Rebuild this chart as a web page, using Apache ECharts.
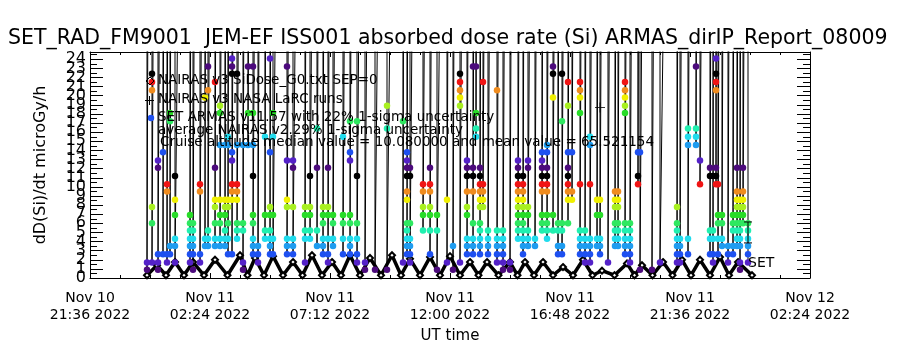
<!DOCTYPE html>
<html>
<head>
<meta charset="utf-8">
<script src="https://cdn.jsdelivr.net/npm/echarts@6/dist/echarts.min.js"></script>
<style>
  html, body { margin: 0; padding: 0; background: #fff; }
  #chart { width: 900px; height: 350px; }
</style>
</head>
<body>
<div id="chart"></div>
<script>
// hours since Nov 10 21:36 UT
let timeLabels = ['Nov 10\n21:36 2022', 'Nov 11\n02:24 2022', 'Nov 11\n07:12 2022', 'Nov 11\n12:00 2022',
    'Nov 11\n16:48 2022', 'Nov 11\n21:36 2022', 'Nov 12\n02:24 2022']

// ARMAS: one column of readings per time, first value is the off-scale spike
let armasHours = [2.28, 2.48, 2.72, 2.92, 3.08, 3.20, 3.40, 4.00, 4.12, 4.40, 4.60, 4.72, 5.00, 5.20, 5.40, 5.52,
    5.68, 5.88, 6.12, 6.32, 6.52, 6.72, 7.00, 7.20, 7.32, 7.88, 8.12, 8.60, 8.80, 9.08, 9.32, 9.52, 9.72, 10.12,
    10.40, 10.68, 11.00, 11.40, 11.88, 12.52, 12.68, 12.80, 13.32, 13.60, 13.88, 14.28, 14.52, 14.80, 15.08, 15.32,
    15.44, 15.60, 15.72, 15.92, 16.28, 16.52, 16.80, 17.12, 17.32, 17.52, 17.80, 18.08, 18.28, 18.52, 18.72, 18.88,
    19.12, 19.28, 19.60, 19.80, 20.00, 20.28, 20.40, 20.72, 21.00, 21.12, 21.40, 21.60, 21.92, 22.00, 22.48, 22.80,
    23.48, 23.60, 23.92, 24.24, 24.40, 24.80, 24.92, 25.04, 25.12, 25.28, 25.52, 25.72, 25.88, 26.00, 26.12, 26.32]
let armasDose = [
    [120, 1.7, 0.9],
    [160, 22.4, 21.5, 20.6, 7.8, 6.0, 1.7],
    [140, 12.9, 12.1, 2.6, 1.7, 0.9],
    [110, 13.8, 2.6],
    [180, 10.3, 9.5, 2.6, 1.7],
    [130, 18.1, 17.2, 3.5, 2.6],
    [200, 11.2, 8.6, 6.9, 4.3, 3.5, 1.7],
    [150, 6.9, 6.0, 5.2, 4.3, 3.5, 2.6, 1.7],
    [120, 6.0, 5.2, 4.3, 3.5, 2.6, 0.9],
    [170, 10.3, 9.5, 2.6, 1.7],
    [100, 19.8, 4.3, 3.5],
    [210, 23.2, 20.6, 5.2, 4.3, 3.5],
    [140, 21.5, 12.1, 8.6, 7.8, 6.0, 4.3, 3.5],
    [190, 18.9, 18.1, 14.6, 8.6, 6.9, 6.0, 4.3, 3.5],
    [120, 14.6, 8.6, 7.8, 6.9, 5.2, 4.3, 3.5],
    [160, 15.5, 14.6, 8.6, 7.8, 6.0, 4.3, 2.6],
    [230, 24.1, 23.2, 22.4, 13.8, 12.9, 10.3, 9.5, 8.6, 2.6],
    [150, 22.4, 14.6, 10.3, 9.5, 8.6, 6.0, 5.2, 4.3],
    [110, 14.6, 6.0, 5.2, 1.7, 0.9],
    [170, 23.2, 18.1, 14.6],
    [140, 23.2, 18.1, 14.6, 11.2, 6.9, 6.0, 4.3, 3.5, 2.6],
    [100, 3.5, 2.6, 1.7],
    [190, 15.5, 6.9, 5.2, 4.3],
    [250, 24.1, 13.8, 7.8, 6.9, 5.2, 4.3, 3.5, 2.6],
    [130, 18.1, 15.5, 6.9, 4.3, 2.6],
    [160, 23.2, 12.9, 8.6, 7.8, 4.3, 3.5, 2.6],
    [120, 12.9, 12.1, 7.8, 4.3, 3.5, 2.6],
    [140, 7.8, 6.9, 5.2, 4.3, 1.7],
    [180, 11.2, 7.8, 6.9, 5.2, 4.3],
    [110, 16.4, 12.1, 5.2, 3.5],
    [150, 7.8, 6.9, 6.0, 4.3, 3.5, 2.6],
    [200, 12.1, 7.8, 6.9, 4.3, 2.6, 1.7],
    [130, 6.9, 6.0, 4.3, 3.5],
    [170, 15.5, 6.9, 6.0, 4.3, 2.6],
    [140, 17.2, 13.8, 12.9, 6.9, 6.0, 4.3, 3.5, 2.6],
    [190, 17.2, 11.2, 6.0, 4.3, 2.6, 1.7],
    [120, 1.7, 0.9],
    [160, 0.9],
    [130, 18.9, 16.4, 0.9],
    [150, 17.2, 1.7],
    [220, 13.8, 12.9, 12.1, 11.2, 9.5, 8.6, 6.0, 5.2, 4.3, 3.5, 2.6],
    [140, 12.1, 11.2, 6.0, 4.3, 3.5, 2.6, 1.7],
    [170, 10.3, 9.5, 7.8, 6.9, 5.2],
    [120, 12.1, 10.3, 9.5, 7.8, 6.9, 5.2, 2.6],
    [150, 6.9, 5.2, 0.9],
    [110, 8.6, 1.7],
    [180, 3.5, 0.9],
    [200, 22.4, 21.5, 20.6, 19.8, 18.9, 1.7],
    [130, 12.9, 12.1, 11.2, 9.5, 7.8, 6.9, 4.3, 3.5, 2.6],
    [160, 23.2, 12.1, 11.2, 9.5, 6.0, 4.3, 3.5, 2.6],
    [120, 23.2, 18.1, 16.4, 15.5],
    [190, 12.1, 11.2, 10.3, 9.5, 8.6, 7.8, 6.0, 5.2, 4.3, 3.5, 2.6],
    [140, 21.5, 10.3, 9.5, 8.6, 7.8],
    [110, 5.2, 4.3, 3.5, 2.6],
    [170, 20.6, 5.2, 4.3, 3.5, 2.6, 1.7],
    [130, 5.2, 4.3, 3.5, 2.6, 1.7, 0.9],
    [150, 1.7, 0.9],
    [210, 12.9, 12.1, 11.2, 10.3, 9.5, 8.6, 7.8, 6.9, 6.0, 5.2, 4.3],
    [140, 11.2, 10.3, 9.5, 8.6, 7.8, 6.9, 6.0, 5.2, 4.3, 3.5, 2.6],
    [180, 12.9, 12.1, 7.8, 6.9, 5.2, 4.3, 3.5],
    [120, 4.3, 3.5],
    [160, 13.8, 12.9, 12.1, 11.2, 10.3, 9.5, 6.9, 6.0, 5.2],
    [230, 14.6, 13.8, 12.1, 11.2, 10.3, 9.5, 6.9, 6.0, 5.2, 4.3],
    [150, 23.2, 22.4, 19.8, 6.9, 5.2],
    [110, 6.0, 5.2, 3.5, 2.6],
    [190, 22.4, 17.2, 6.0, 5.2, 3.5, 2.6],
    [140, 21.5, 18.9, 13.8, 12.1, 11.2, 10.3, 9.5, 8.6, 6.0],
    [120, 13.8, 9.5, 8.6],
    [200, 21.5, 20.6, 19.8, 18.1, 10.3, 5.2, 4.3, 3.5, 2.6],
    [130, 5.2, 4.3, 3.5, 2.6, 1.7],
    [170, 15.5, 14.6, 10.3, 4.3, 3.5, 2.6, 1.7],
    [150, 8.6, 6.9, 4.3, 3.5],
    [110, 8.6, 6.9, 4.3, 3.5, 2.6],
    [180, 1.7],
    [140, 9.5, 8.6, 7.8, 6.0, 5.2, 4.3, 3.5],
    [120, 9.5, 8.6, 7.8, 6.0, 5.2, 4.3, 3.5],
    [210, 21.5, 20.6, 19.8, 18.9, 18.1, 6.0, 5.2, 4.3, 3.5, 2.6],
    [130, 6.0, 5.2, 4.3, 3.5, 2.6, 1.7],
    [160, 13.8, 11.2, 10.3],
    [110, 13.8, 0.9],
    [190, 0.9],
    [150, 1.7],
    [140, 7.8, 6.0, 5.2, 4.3, 3.5, 2.6, 1.7],
    [120, 4.3, 3.5, 2.6, 1.7],
    [170, 16.4, 15.5, 14.6, 4.3, 2.6],
    [200, 23.2, 16.4, 15.5, 14.6],
    [130, 12.9, 10.3],
    [160, 12.1, 11.2, 5.2, 4.3, 2.6],
    [110, 11.2, 5.2, 4.3, 2.6, 1.7],
    [240, 24.1, 22.4, 21.5, 20.6, 12.1, 11.2, 10.3],
    [150, 10.3, 6.9, 6.0, 4.3, 2.6],
    [120, 6.9, 6.0, 4.3, 3.5],
    [180, 3.5, 2.6, 1.7],
    [140, 6.9, 6.0, 5.2, 3.5, 2.6],
    [170, 12.1, 9.5, 8.6, 7.8, 6.9, 6.0, 5.2, 4.3, 3.5],
    [130, 8.6, 7.8, 6.9, 6.0, 5.2, 4.3, 3.5, 1.7, 0.9],
    [160, 12.1, 9.5, 8.6, 7.8, 6.9, 6.0],
    [120, 6.0, 5.2, 4.3, 3.5, 2.6, 1.7]
]

// NAIRAS v3 model curve (troughs and peaks)
let nairasHours = [2.28, 2.68, 3.04, 3.40, 3.76, 4.12, 4.56, 5.00, 5.50, 6.00, 6.30, 6.60, 6.96, 7.32, 7.72, 8.12,
    8.50, 8.88, 9.28, 9.68, 10.04, 10.40, 10.80, 11.20, 11.64, 12.08, 12.44, 12.80, 13.20, 13.60, 14.00, 14.40,
    14.80, 15.20, 15.54, 15.88, 16.34, 16.80, 17.10, 17.40, 17.76, 18.12, 18.52, 18.92, 19.32, 19.72, 20.10, 20.48,
    20.98, 21.48, 21.78, 22.08, 22.50, 22.92, 23.30, 23.68, 24.04, 24.40, 24.80, 25.20, 25.56, 25.92, 26.48]
let nairasDose = [0.3, 1.4, 0.3, 1.75, 0.3, 1.75, 0.3, 2.0, 0.3, 2.5, 0.3, 2.2, 0.3, 2.4, 0.3, 1.75,
    0.3, 2.5, 0.3, 1.75, 0.3, 2.5, 0.3, 2.2, 0.3, 2.5, 0.3, 2.1, 0.3, 2.3, 0.3, 2.4,
    0.3, 1.75, 0.3, 1.75, 0.3, 1.75, 0.3, 1.75, 0.3, 1.75, 0.3, 1.2, 0.3, 2.0, 0.3, 0.8,
    0.3, 1.6, 0.3, 1.4, 0.3, 1.75, 0.3, 2.0, 0.3, 2.0, 0.3, 2.3, 0.3, 1.75, 0.3]

// NAIRAS LaRC run and SET uncertainty bar
let larcRun = [[20.4, 18.7]]
let setBar = [[26.32, 3.85], [26.32, 6.15]]

// colour cycles every 13 dose steps
let levelColors = ['#4c0a7c', '#5421c8', '#1e50f0', '#1e9cf0', '#20dced', '#20f0b0', '#2ee860',
    '#28dc28', '#a8f020', '#f0f000', '#f08c1e', '#f01414', '#000000']

let armasPoints = []
armasHours.forEach(function (t, i) {
    armasDose[i].forEach(function (v) { armasPoints.push([t, v]) })
})
let nairasPoints = nairasHours.map(function (t, i) { return [t, nairasDose[i]] })

let font = 'DejaVu Sans'
let myChart = echarts.init(document.getElementById('chart'))

let xBase = {
    type: 'value', min: 0, max: 28.8, interval: 4.8,
    axisLine: {show: true, onZero: false, lineStyle: {color: '#000', width: 1}},
    axisTick: {show: true, inside: true, length: 5, lineStyle: {color: '#000'}},
    minorTick: {show: true, splitNumber: 4, length: 3, lineStyle: {color: '#000'}},
    splitLine: {show: false}
}
let yBase = {
    type: 'value', min: 0, max: 24.8, interval: 1,
    axisLine: {show: true, onZero: false, lineStyle: {color: '#000', width: 1}},
    axisTick: {show: true, inside: true, length: 13, lineStyle: {color: '#000'}},
    minorTick: {show: true, splitNumber: 2, length: 7, lineStyle: {color: '#000'}},
    splitLine: {show: false}
}
let yLabelStyle = {color: '#000', fontFamily: font, fontSize: 16, margin: 4, hideOverlap: false}

option = {
    animation: false,
    backgroundColor: '#fff',
    textStyle: {fontFamily: font},
    title: {
        text: 'SET_RAD_FM9001  JEM-EF ISS001 absorbed dose rate (Si) ARMAS_dirIP_Report_08009',
        left: 8, top: 28, padding: 0,
        textStyle: {fontFamily: font, fontSize: 20.5, fontWeight: 'normal', color: '#000'}
    },
    grid: {left: 90, right: 90, top: 52, bottom: 72},
    xAxis: [
        Object.assign({}, xBase, {
            position: 'bottom',
            name: 'UT time', nameLocation: 'middle', nameGap: 43,
            nameTextStyle: {fontFamily: font, fontSize: 15, color: '#000'},
            axisLabel: {
                color: '#000', fontFamily: font, fontSize: 14, lineHeight: 17, margin: 12,
                formatter: function (v) { return timeLabels[Math.round(v / 4.8)] || '' }
            }
        }),
        Object.assign({}, xBase, {position: 'top', axisLabel: {show: false}})
    ],
    yAxis: [
        Object.assign({}, yBase, {
            position: 'left',
            name: 'dD(Si)/dt microGy/h', nameLocation: 'middle', nameGap: 41,
            nameTextStyle: {fontFamily: font, fontSize: 16, color: '#000'},
            axisLabel: Object.assign({}, yLabelStyle, {
                showMinLabel: false, showMaxLabel: false,
                formatter: function (v) { return Number.isInteger(v) ? String(v) : '' }
            })
        }),
        Object.assign({}, yBase, {position: 'right', axisLabel: {show: false}}),
        // carries only the "0" label so it is not dropped next to "1"
        Object.assign({}, yBase, {
            position: 'left', axisLine: {show: false}, axisTick: {show: false}, minorTick: {show: false},
            axisLabel: Object.assign({}, yLabelStyle, {
                showMinLabel: true, showMaxLabel: false,
                formatter: function (v) { return v === 0 ? '0' : '' }
            })
        })
    ],
    graphic: [
        {type: 'polygon', shape: {points: [[150, 77], [154, 81], [150, 85], [146, 81]]},
            style: {fill: 'none', stroke: '#000', lineWidth: 1}, z: 100},
        {type: 'rect', shape: {x: 145, y: 100, width: 9, height: 1}, style: {fill: '#000'}, z: 100},
        {type: 'rect', shape: {x: 149, y: 96, width: 1, height: 9}, style: {fill: '#000'}, z: 100},
        {type: 'circle', shape: {cx: 151, cy: 118, r: 3.2}, style: {fill: '#1e50f0'}, z: 100},
        {type: 'text', left: 158, top: 73, z: 100,
            style: {text: 'NAIRAS v3 SiDose_G0.txt SEP=0', font: '13.5px "DejaVu Sans"', fill: '#000'}},
        {type: 'text', left: 158, top: 92, z: 100,
            style: {text: 'NAIRAS v3 NASA LaRC runs', font: '13.5px "DejaVu Sans"', fill: '#000'}},
        {type: 'text', left: 158, top: 110, z: 100,
            style: {text: 'SET ARMAS v11.57 with 22% 1-sigma uncertainty', font: '13.5px "DejaVu Sans"', fill: '#000'}},
        {type: 'text', left: 158, top: 123, z: 100,
            style: {text: 'average NAIRAS v2.29% 1-sigma uncertainty', font: '13.5px "DejaVu Sans"', fill: '#000'}},
        {type: 'text', left: 160, top: 135, z: 100,
            style: {text: 'Cruise altitude median value = 10.080000 and mean value = 65.521154', font: '13.5px "DejaVu Sans"', fill: '#000'}}
    ],
    series: [
        {
            name: 'NAIRAS', type: 'line', data: nairasPoints, z: 3,
            symbol: 'emptyDiamond', symbolSize: 6, showSymbol: true,
            lineStyle: {color: '#000', width: 3.5},
            itemStyle: {color: '#000', borderColor: '#000', borderWidth: 1}
        },
        {
            name: 'ARMAS', type: 'line', data: armasPoints, z: 4, clip: true,
            symbol: 'circle', symbolSize: 6.5, showSymbol: true,
            lineStyle: {color: '#000', width: 1},
            itemStyle: {
                color: function (p) {
                    let k = Math.round((p.value[1] - 0.88) / 0.862)
                    return levelColors[((k % 13) + 13) % 13]
                }
            }
        },
        {
            name: 'LaRC', type: 'scatter', data: larcRun, z: 5,
            symbol: 'path://M0,4.5h10v1h-10zM4.5,0h1v10h-1z', symbolSize: 10,
            itemStyle: {color: '#000'}
        },
        {
            name: 'SET', type: 'line', data: setBar, z: 5,
            symbol: 'rect', symbolSize: [8, 1], showSymbol: true,
            lineStyle: {color: '#000', width: 1},
            itemStyle: {color: '#000'},
            label: {
                show: true, position: [4, 14], fontFamily: font, fontSize: 14, color: '#000',
                formatter: function (p) { return p.dataIndex === 0 ? 'SET' : '' }
            }
        }
    ]
}
myChart.setOption(option)
</script>
</body>
</html>
